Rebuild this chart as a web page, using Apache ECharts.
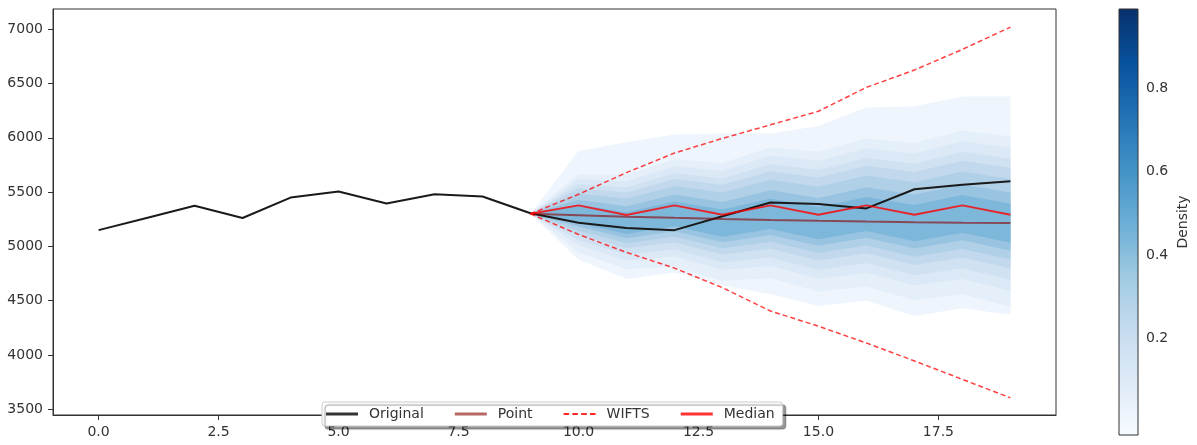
<!DOCTYPE html>
<html><head><meta charset="utf-8">
<script src="https://cdn.jsdelivr.net/npm/echarts@6/dist/echarts.min.js"></script>
<style>html,body{margin:0;padding:0;background:#fff}#c{width:1197px;height:445px}</style>
</head><body><div id="c"></div>
<script>
// ---- data ----
const originalX = [0,1,2,3,4,5,6,7,8,9,10,11,12,13,14,15,16,17,18,19];
const original  = [5150,5262,5375,5262,5450,5505,5395,5480,5460,5305,5218,5170,5150,5278,5405,5390,5350,5527,5568,5600];
const forecastX = [9,10,11,12,13,14,15,16,17,18,19];
const point      = [5300,5287,5274,5263,5253,5244,5236,5229,5223,5218,5215];
const median     = [5300,5378,5290,5378,5292,5378,5292,5378,5292,5378,5292];
const wiftsUpper = [5300,5480,5680,5860,5995,6120,6245,6465,6625,6815,7020];
const wiftsLower = [5300,5110,4945,4800,4620,4405,4265,4110,3945,3775,3605];
// fan bands, outermost first
const band1Upper = [5300,5880,5960,6030,6040,6040,6110,6280,6290,6380,6380];
const band1Lower = [5300,4880,4700,4760,4640,4560,4450,4500,4360,4430,4370];
const band2Upper = [5300,5668,5657,5803,5768,5914,5872,5994,5952,6068,6013];
const band2Lower = [5300,4945,4789,4815,4682,4708,4582,4631,4505,4560,4445];
const band3Upper = [5300,5621,5600,5739,5697,5835,5787,5905,5857,5969,5911];
const band3Lower = [5300,5012,4869,4906,4783,4820,4701,4758,4639,4700,4591];
const band4Upper = [5300,5574,5543,5674,5625,5756,5703,5815,5762,5870,5808];
const band4Lower = [5300,5059,4926,4971,4854,4899,4786,4847,4734,4799,4694];
const band5Upper = [5300,5535,5497,5621,5568,5692,5634,5743,5685,5790,5725];
const band5Lower = [5300,5107,4983,5036,4925,4978,4870,4936,4829,4897,4796];
const band6Upper = [5300,5488,5440,5557,5497,5613,5550,5654,5591,5691,5622];
const band6Lower = [5300,5145,5029,5088,4983,5042,4939,5008,4905,4977,4880];
const band7Upper = [5300,5430,5371,5478,5410,5517,5447,5545,5475,5571,5497];
const band7Lower = [5300,5183,5075,5140,5039,5105,5006,5080,4981,5056,4961];
const band8Upper = [5300,5383,5314,5413,5339,5438,5363,5456,5381,5473,5394];
const band8Lower = [5300,5216,5114,5185,5089,5160,5065,5142,5047,5125,5033];
const bandColors = ['#eef5fd','#e5eff9','#dbe8f6','#d0e1f2','#c2d9ed','#b0d0e8','#98c4e1','#7db7da'];
const xTicks = [0,2.5,5,7.5,10,12.5,15,17.5];
const yTicks = [3500,4000,4500,5000,5500,6000,6500,7000];
const cbTicks = [0.2,0.4,0.6,0.8];
const cbRange = [-0.032, 0.99];
const bluesStops = ['#f7fbff','#deebf7','#c6dbef','#9ecae1','#6baed6','#4292c6','#2171b5','#08519c','#08306b'];

const bandUpper = [band1Upper,band2Upper,band3Upper,band4Upper,band5Upper,band6Upper,band7Upper,band8Upper];
const bandLower = [band1Lower,band2Lower,band3Lower,band4Lower,band5Lower,band6Lower,band7Lower,band8Lower];
const pairs = (xs, ys) => xs.map((x, i) => [x, ys[i]]);

const FONT = 'DejaVu Sans';
const TXT = '#333';
const SOLID = 'path://M0,0h32v3h-32z';
const DASHED = 'path://M0,0h5v2h-5z M8,0h5v2h-5z M16,0h5v2h-5z M24,0h5v2h-5z';
const chart = echarts.init(document.getElementById('c'), null, {renderer: 'canvas'});
chart.setOption({
  animation: false,
  backgroundColor: '#fff',
  textStyle: {fontFamily: FONT},
  grid: [
    {left: 53, right: 141, top: 9, bottom: 30, show: true, borderColor: '#333', borderWidth: 1, backgroundColor: 'transparent', containLabel: false},
    {left: 1119, width: 19, top: 9, height: 426, show: false, containLabel: false}
  ],
  xAxis: [
    {type: 'value', gridIndex: 0, min: -0.95, max: 19.95,
     splitLine: {show: false},
     axisLine: {show: true, onZero: false, lineStyle: {color: '#333'}},
     axisTick: {show: true, length: 5, lineStyle: {color: '#333'}, customValues: xTicks},
     axisLabel: {customValues: xTicks, margin: 10, fontSize: 14, color: TXT, fontFamily: FONT,
                 formatter: v => v.toFixed(1)}},
    {type: 'value', gridIndex: 1, min: 0, max: 1, show: false}
  ],
  yAxis: [
    {type: 'value', gridIndex: 0, min: 3447, max: 7187,
     splitLine: {show: false},
     axisLine: {show: true, onZero: false, lineStyle: {color: '#333'}},
     axisTick: {show: true, length: 5, lineStyle: {color: '#333'}, customValues: yTicks},
     axisLabel: {customValues: yTicks, margin: 10, fontSize: 14, color: TXT, fontFamily: FONT,
                 formatter: v => String(v)}},
    {type: 'value', gridIndex: 1, min: cbRange[0], max: cbRange[1], position: 'right',
     splitLine: {show: false},
     axisLine: {show: false},
     axisTick: {show: true, length: 5, lineStyle: {color: '#333'}, customValues: cbTicks},
     axisLabel: {customValues: cbTicks, margin: 8, fontSize: 14, color: TXT, fontFamily: FONT,
                 formatter: v => v.toFixed(1)},
     name: 'Density', nameLocation: 'middle', nameRotate: 90, nameGap: 38,
     nameTextStyle: {fontSize: 14, color: TXT, fontFamily: FONT}}
  ],
  legend: {
    data: [
      {name: 'Original', icon: SOLID},
      {name: 'Point', icon: SOLID},
      {name: 'WIFTS', icon: DASHED},
      {name: 'Median', icon: SOLID}
    ],
    left: 322, top: 402, orient: 'horizontal',
    itemWidth: 32, itemHeight: 14, itemGap: 31,
    padding: [5, 8, 5, 4],
    backgroundColor: '#fff', borderColor: '#ccc', borderWidth: 1, borderRadius: 3,
    shadowColor: 'rgba(0,0,0,0.4)', shadowBlur: 1, shadowOffsetX: 3, shadowOffsetY: 3,
    textStyle: {fontSize: 14, color: TXT, fontFamily: FONT, padding: [0, 0, 0, 6]}
  },
  series: [
    {type: 'custom', name: 'fan', xAxisIndex: 0, yAxisIndex: 0, silent: true, z: 1,
     data: bandColors.map((c, k) => [forecastX[0], bandUpper[k][0]]),
     encode: {x: 0, y: 1},
     renderItem: (params, api) => {
       const k = params.dataIndex;
       const pts = [];
       for (let i = 0; i < forecastX.length; i++) pts.push(api.coord([forecastX[i], bandUpper[k][i]]));
       for (let i = forecastX.length - 1; i >= 0; i--) pts.push(api.coord([forecastX[i], bandLower[k][i]]));
       return {type: 'polygon', shape: {points: pts}, style: {fill: bandColors[k]}};
     }},
    {type: 'line', name: 'Original', data: pairs(originalX, original), symbol: 'none', z: 3,
     lineStyle: {color: '#1a1a1a', width: 2}, itemStyle: {color: '#333'}},
    {type: 'line', name: 'Point', data: pairs(forecastX, point), symbol: 'none', z: 3,
     lineStyle: {color: 'rgba(139,0,0,0.6)', width: 2}, itemStyle: {color: 'rgba(139,0,0,0.6)'}},
    {type: 'line', name: 'WIFTS', data: pairs(forecastX, wiftsUpper), symbol: 'none', z: 3,
     lineStyle: {color: 'rgba(255,0,0,0.75)', width: 1.5, type: [5, 3]}, itemStyle: {color: 'rgba(255,0,0,0.85)'}},
    {type: 'line', name: 'WIFTS', data: pairs(forecastX, wiftsLower), symbol: 'none', z: 3,
     lineStyle: {color: 'rgba(255,0,0,0.75)', width: 1.5, type: [5, 3]}, itemStyle: {color: 'rgba(255,0,0,0.85)'}},
    {type: 'line', name: 'Median', data: pairs(forecastX, median), symbol: 'none', z: 3,
     lineStyle: {color: 'rgba(255,0,0,0.8)', width: 2}, itemStyle: {color: 'rgba(255,0,0,0.8)'}},
    {type: 'custom', name: 'colorbar', xAxisIndex: 1, yAxisIndex: 1, silent: true,
     data: [[0, cbRange[0]]], encode: {x: 0, y: 1},
     renderItem: (params, api) => {
       const a = api.coord([0, cbRange[1]]);
       const b = api.coord([1, cbRange[0]]);
       return {type: 'rect', shape: {x: a[0], y: a[1], width: b[0] - a[0], height: b[1] - a[1]},
               style: {fill: {type: 'linear', x: 0, y: 1, x2: 0, y2: 0,
                              colorStops: bluesStops.map((c, i) => ({offset: i / (bluesStops.length - 1), color: c}))},
                       stroke: '#333', lineWidth: 1}};
     }}
  ]
});
</script>
</body></html>
